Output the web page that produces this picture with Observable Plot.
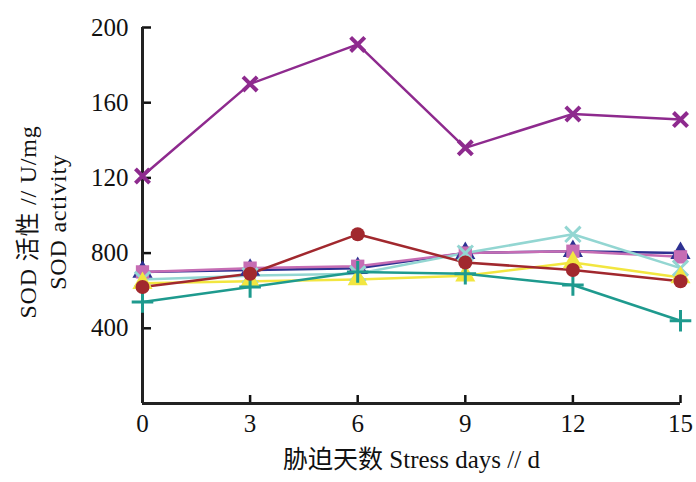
<!DOCTYPE html>
<html><head><meta charset="utf-8">
<script src="https://cdn.jsdelivr.net/npm/d3@7"></script>
<script src="https://cdn.jsdelivr.net/npm/@observablehq/plot@0.6"></script>
<style>
body{margin:0;background:#fff;}
#chart{position:relative;width:696px;height:482px;}
.yt{position:absolute;left:43px;top:222px;transform:translate(-50%,-50%) rotate(-90deg);font-family:"Liberation Serif","Noto Sans CJK SC",serif;font-size:24px;line-height:30px;letter-spacing:0.8px;text-align:center;white-space:nowrap;color:#111;}
</style></head>
<body><div id="chart"></div>
<script>
const days = [0, 3, 6, 9, 12, 15];
const purple = [121, 170, 191, 136, 154, 151];
const navy = [70, 71, 72, 80, 81, 80];
const pink = [70, 72, 73, 80, 81, 78];
const cyan = [66, 68, 69, 80, 90, 72];
const yellow = [64, 65, 66, 68, 75, 67];
const darkred = [62, 69, 90, 75, 71, 65];
const teal = [54, 62, 70, 69, 63, 44];
const yTicks = [40, 80, 120, 160, 200];
const yTickLabels = ["400", "800", "120", "160", "200"];
const xTicks = [0, 3, 6, 9, 12, 15];

const series = [
  {vals: navy, color: "#2E3192", symbol: "triangle", filled: true},
  {vals: pink, color: "#C66DB4", symbol: "square", filled: true},
  {vals: cyan, color: "#93D6D2", symbol: "times", filled: false},
  {vals: yellow, color: "#F2E640", symbol: "triangle", filled: true},
  {vals: teal, color: "#1E9A8E", symbol: "plus", filled: false},
  {vals: darkred, color: "#A1282E", symbol: "circle", filled: true},
  {vals: purple, color: "#8E2A8E", symbol: "times", filled: false}
];

const marks = [];
for (const s of series) {
  const data = days.map((d, i) => ({d, v: s.vals[i]}));
  marks.push(Plot.line(data, {x: "d", y: "v", stroke: s.color, strokeWidth: 2.5}));
}
for (const s of series) {
  const data = days.map((d, i) => ({d, v: s.vals[i]}));
  if (s.filled) {
    marks.push(Plot.dot(data, {x: "d", y: "v", symbol: s.symbol, fill: s.color, r: s.symbol === "circle" ? 7 : 7.5}));
  } else {
    marks.push(Plot.dot(data, {x: "d", y: "v", symbol: s.symbol, stroke: s.color, strokeWidth: s === series[6] ? 4 : 3, r: s === series[6] ? 6.5 : 7}));
  }
}

const font = `"Liberation Serif", "Noto Sans CJK SC", serif`;
const plot = Plot.plot({
  width: 696, height: 482,
  marginLeft: 142, marginRight: 16, marginTop: 27, marginBottom: 79,
  style: {fontFamily: font, fontSize: "25px", color: "#111", background: "#fff"},
  x: {domain: [0, 15]},
  y: {domain: [0, 200]},
  marks: [
    Plot.axisY(yTicks, {tickSize: 0, tickPadding: 14, tickFormat: (d) => yTickLabels[yTicks.indexOf(d)], label: null, fontSize: 25}),
    Plot.axisY(yTicks, {tickSize: -9, text: null, label: null, strokeWidth: 2.5}),
    Plot.axisX(xTicks, {tickSize: 0, tickPadding: 11, label: null, fontSize: 25}),
    Plot.axisX(xTicks.slice(1), {tickSize: -8, text: null, label: null, strokeWidth: 2.5}),
    Plot.ruleX([0], {stroke: "#222", strokeWidth: 3}),
    Plot.ruleY([0], {stroke: "#222", strokeWidth: 3}),
    ...marks,
    Plot.text(["胁迫天数 Stress days // d"], {frameAnchor: "bottom", dy: 64, fontSize: 25, fill: "#111", letterSpacing: "1.2px"})
  ]
});
const c = document.getElementById("chart");
c.appendChild(plot);
const yt = document.createElement("div");
yt.className = "yt";
yt.innerHTML = "SOD 活性 // U/mg<br>SOD activity";
c.appendChild(yt);
</script></body></html>
